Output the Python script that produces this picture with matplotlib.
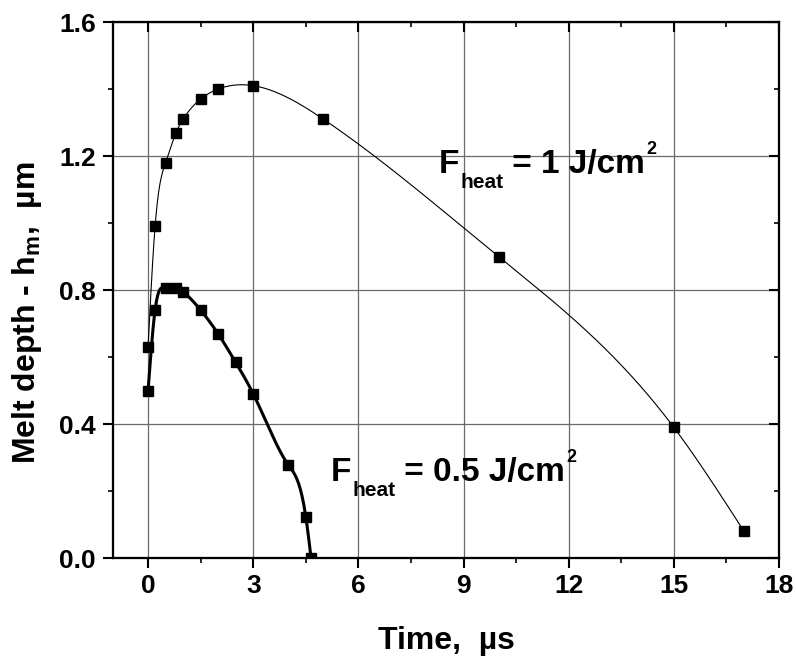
import numpy as np
import matplotlib
matplotlib.use("Agg")
import matplotlib.pyplot as plt
from matplotlib.ticker import MultipleLocator
from matplotlib.transforms import offset_copy

# Data
t1 = [0, 0.2, 0.5, 0.8, 1.0, 1.5, 2.0, 3.0, 5.0, 10.0, 15.0, 17.0]
h1 = [0.63, 0.99, 1.18, 1.27, 1.31, 1.37, 1.40, 1.41, 1.31, 0.90, 0.39, 0.08]
t2 = [0, 0.2, 0.5, 0.8, 1.0, 1.5, 2.0, 2.5, 3.0, 4.0, 4.5, 4.65]
h2 = [0.50, 0.74, 0.805, 0.807, 0.795, 0.74, 0.669, 0.584, 0.49, 0.278, 0.123, 0.0]
label1_value = " = 1 J/cm"
label2_value = " = 0.5 J/cm"
yticks = [0, 0.4, 0.8, 1.2, 1.6]
ytick_labels = ['0.0', '0.4', '0.8', '1.2', '1.6']


def natural_spline(x, y, n=400):
    x = np.asarray(x, float); y = np.asarray(y, float)
    m = len(x)
    h = np.diff(x)
    A = np.zeros((m, m)); b = np.zeros(m)
    A[0, 0] = 1; A[-1, -1] = 1
    for i in range(1, m - 1):
        A[i, i - 1] = h[i - 1]
        A[i, i] = 2 * (h[i - 1] + h[i])
        A[i, i + 1] = h[i]
        b[i] = 3 * ((y[i + 1] - y[i]) / h[i] - (y[i] - y[i - 1]) / h[i - 1])
    c = np.linalg.solve(A, b)
    bb = (y[1:] - y[:-1]) / h - h * (2 * c[:-1] + c[1:]) / 3
    d = (c[1:] - c[:-1]) / (3 * h)
    xs = np.linspace(x[0], x[-1], n)
    idx = np.clip(np.searchsorted(x, xs) - 1, 0, m - 2)
    dx = xs - x[idx]
    ys = y[idx] + bb[idx] * dx + c[idx] * dx ** 2 + d[idx] * dx ** 3
    return xs, ys


plt.rcParams['font.family'] = ['Liberation Sans', 'DejaVu Sans']
plt.rcParams['font.weight'] = 'bold'
plt.rcParams['mathtext.fontset'] = 'custom'
plt.rcParams['mathtext.rm'] = 'Liberation Sans:bold'
plt.rcParams['mathtext.it'] = 'Liberation Sans:bold'
plt.rcParams['mathtext.bf'] = 'Liberation Sans:bold'

fig = plt.figure(figsize=(7.97, 6.61), dpi=100)
ax = fig.add_axes([0.1418, 0.1558, 0.9774 - 0.1418, 0.9667 - 0.1558])

xs, ys = natural_spline(t1, h1)
ax.plot(xs, ys, color='black', lw=0.8, zorder=3)
ax.plot(t1, h1, 's', color='black', ms=7.2, zorder=4)
xs2, ys2 = natural_spline(t2, h2)
ax.plot(xs2, ys2, color='black', lw=2.2, zorder=3)
ax.plot(t2, h2, 's', color='black', ms=7.2, zorder=4)

ax.set_xlim(-1, 18)
ax.set_ylim(0, 1.6)
ax.xaxis.set_major_locator(MultipleLocator(3))
ax.xaxis.set_minor_locator(MultipleLocator(1.5))
ax.set_yticks(yticks)
ax.set_yticklabels(ytick_labels)
ax.yaxis.set_minor_locator(MultipleLocator(0.2))
ax.grid(True, which='major', color='#6a6a6a', lw=0.9)
ax.set_axisbelow(True)

for s in ax.spines.values():
    s.set_linewidth(1.5)
ax.tick_params(axis='both', which='major', labelsize=19, width=1.5, length=7.2)
ax.tick_params(axis='both', which='minor', width=1.2, length=3.6)
ax.tick_params(axis='x', which='both', direction='out', pad=4)
ax.tick_params(axis='y', which='both', direction='out', pad=5)
ax.secondary_xaxis('top')  # placeholder removed below
for sec in list(ax.child_axes):
    sec.remove()
# inward ticks on top and right via twin axes
axt = ax.twiny()
axt.set_xlim(ax.get_xlim())
axt.xaxis.set_major_locator(MultipleLocator(3))
axt.xaxis.set_minor_locator(MultipleLocator(1.5))
axt.tick_params(axis='x', which='major', direction='in', length=7.2, width=1.5, labeltop=False)
axt.tick_params(axis='x', which='minor', direction='in', length=3.6, width=1.2)
axr = ax.twinx()
axr.set_ylim(ax.get_ylim())
axr.set_yticks(yticks)
axr.yaxis.set_minor_locator(MultipleLocator(0.2))
axr.tick_params(axis='y', which='major', direction='in', length=7.2, width=1.5, labelright=False)
axr.tick_params(axis='y', which='minor', direction='in', length=3.6, width=1.2)
for a in (axt, axr):
    for s in a.spines.values():
        s.set_linewidth(1.5)

for lab in ax.get_xticklabels() + ax.get_yticklabels():
    lab.set_fontweight('bold')

ax.set_xlabel('Time,  µs', fontsize=23, fontweight='bold')
ax.xaxis.set_label_coords(0.5, -0.127)
ax.set_ylabel(r'Melt depth - h$_{\mathrm{m}}$,  µm', fontsize=23, fontweight='bold')
ax.yaxis.set_label_coords(-0.1036, 0.457)

fig.canvas.draw()
renderer = fig.canvas.get_renderer()


def fluence_label(x, y, value):
    big, small, sup = 24, 15, 13
    tF = ax.text(x, y, 'F', fontsize=big, fontweight='bold', va='baseline', ha='left', zorder=5)
    wF = tF.get_window_extent(renderer).width
    tr = offset_copy(ax.transData, fig=fig, x=wF + 1, y=-15, units='dots')
    th = ax.text(x, y, 'heat', fontsize=small, fontweight='bold', va='baseline', ha='left',
                 transform=tr, zorder=5)
    wh = th.get_window_extent(renderer).width
    tr2 = offset_copy(ax.transData, fig=fig, x=wF + 1 + wh, y=0, units='dots')
    tv = ax.text(x, y, value, fontsize=big, fontweight='bold', va='baseline', ha='left',
                 transform=tr2, zorder=5)
    wv = tv.get_window_extent(renderer).width
    tr3 = offset_copy(ax.transData, fig=fig, x=wF + 1 + wh + wv + 1, y=19, units='dots')
    ax.text(x, y, '2', fontsize=sup, fontweight='bold', va='baseline', ha='left',
            transform=tr3, zorder=5)


fluence_label(8.29, 1.149, label1_value)
fluence_label(5.21, 0.23, label2_value)

fig.savefig('out.png', dpi=100)
